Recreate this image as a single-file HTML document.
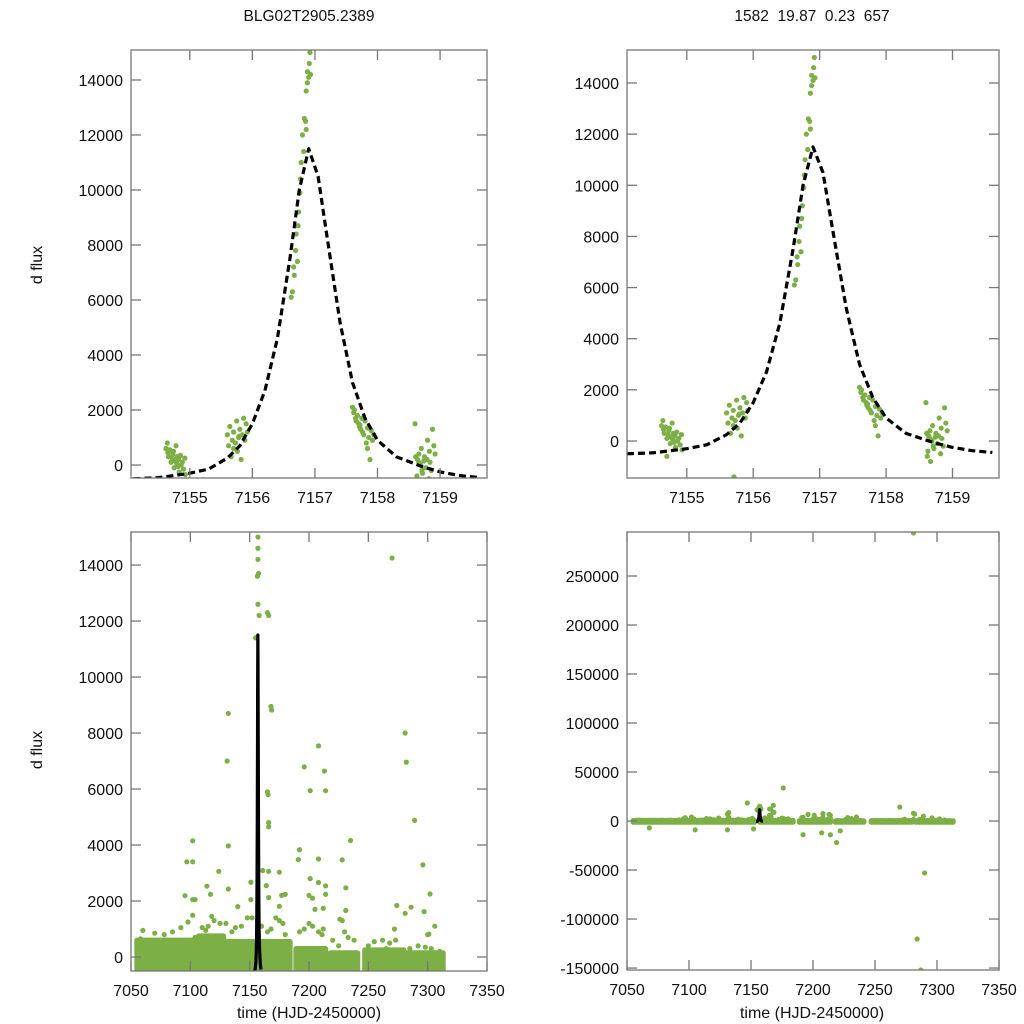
<!DOCTYPE html>
<html><head><meta charset="utf-8">
<style>
html,body{margin:0;padding:0;background:#fff;width:1024px;height:1024px;overflow:hidden;}
svg{display:block;font-family:"Liberation Sans",Arial,sans-serif;}
</style></head>
<body>
<svg id="chart" width="1024" height="1024" viewBox="0 0 1024 1024" xmlns="http://www.w3.org/2000/svg">
<rect x="0" y="0" width="1024" height="1024" fill="#fff"/>
<text x="309" y="21" font-size="15.5" text-anchor="middle" fill="#111">BLG02T2905.2389</text>
<text x="812" y="21" font-size="15.5" text-anchor="middle" fill="#111" xml:space="preserve">1582  19.87  0.23  657</text>
<text transform="translate(42,265) rotate(-90)" font-size="16" text-anchor="middle" fill="#111">d flux</text>
<text transform="translate(42,750) rotate(-90)" font-size="16" text-anchor="middle" fill="#111">d flux</text>
<text x="309" y="1018" font-size="16" text-anchor="middle" fill="#111">time (HJD-2450000)</text>
<text x="812" y="1018" font-size="16" text-anchor="middle" fill="#111">time (HJD-2450000)</text>
<g id="panels"></g>
</svg>
<script>
// ---- zoomed event photometry (top panels) ----
const zoomT = [
7154.62,7154.64,7154.65,7154.66,7154.68,7154.70,7154.70,7154.72,7154.73,7154.75,7154.76,7154.78,7154.79,7154.80,7154.82,7154.83,7154.85,7154.86,7154.88,7154.90,7154.92,7154.93,7154.74,7154.81,
7155.60,7155.62,7155.64,7155.66,7155.68,7155.70,7155.71,7155.73,7155.75,7155.76,7155.78,7155.80,7155.82,7155.84,7155.86,7155.88,7155.90,7155.92,7155.70,7155.79,
7156.62,7156.64,7156.66,7156.67,7156.69,7156.70,7156.72,7156.73,7156.74,7156.76,7156.77,7156.78,7156.80,7156.82,7156.83,7156.85,7156.86,7156.88,7156.88,7156.90,7156.91,7156.92,7156.93,7156.86,
7157.60,7157.62,7157.63,7157.65,7157.66,7157.68,7157.70,7157.71,7157.73,7157.75,7157.76,7157.78,7157.80,7157.82,7157.84,7157.86,7157.88,7157.90,7157.92,7157.94,7157.72,7157.84,
7158.60,7158.61,7158.63,7158.64,7158.66,7158.67,7158.69,7158.70,7158.72,7158.74,7158.75,7158.77,7158.79,7158.80,7158.82,7158.84,7158.86,7158.88,7158.90,7158.92,7158.62,7158.66,7158.71,7158.83
];
const zoomV = [
600,800,450,300,550,-600,100,250,400,-100,150,700,50,300,200,-250,350,0,100,-150,250,-350,500,-50,
1100,700,1400,300,900,1200,-1400,800,1600,500,1000,1300,200,1100,1700,900,1500,1200,600,1050,
6100,6300,7200,6900,7800,8400,7400,8700,9200,9900,10400,11000,12000,11400,12600,12500,13600,13900,14300,14100,14600,15000,14200,12200,
2100,1900,2000,1700,1600,1800,1500,1400,1300,1700,1200,1100,1600,800,1350,1000,200,1250,900,1100,1450,600,
1500,300,-400,200,400,-800,0,600,-300,150,300,-100,200,900,-500,100,-200,1300,700,400,-600,100,-200,500
];
// ---- fitted model curve samples ----
const modelT = [7154.1,7154.5,7155.0,7155.3,7155.6,7155.8,7156.0,7156.2,7156.4,7156.6,7156.75,7156.9,7157.05,7157.2,7157.4,7157.6,7157.8,7158.0,7158.3,7158.7,7159.0,7159.3,7159.6];
const modelV = [-500,-460,-300,-150,250,700,1500,2700,4600,7500,10000,11500,10500,8200,5200,3000,1700,900,300,-50,-250,-380,-450];
// ---- full season: dense observing blocks [start, end, low, high] ----
const seasonStart = [7055,7107,7129,7157,7189,7218,7247,7283];
const seasonEnd   = [7106,7128,7153,7184,7214,7241,7280,7313];
const seasonLow   = [-1200,-1200,-1200,-1200,-1200,-1200,-1200,-1200];
const seasonHigh  = [600,750,550,550,300,150,250,150];
// ---- full season outliers ----
const outT = [7102,7102,7095.5,7102,7104,7102,7114,7117,7124,7132,7132,7140,7151,7151,7161,7165,7165.5,7166,7166,7166,7175,7164,7166,7177,7180,7175,7201,7214,7191,7192,7208,7201,7200,7203,7205,7208,7214,7214,7212,7228,7235,7231,7231,7226,7274,7286,7289,7296,7302,7297,7281,7301,7272,
7157,7157,7157,7157.5,7156.5,7157,7158,7155,7165,7166,7168,7168.5,7132,7131,7208,7196,7213,7282,7270,7097,
7176,7147,7168,7281,7219,7192,7207,7214,7068,7105,7131,7152,7284,7287,7281,7290,7222];
const outV = [4150,3400,2190,2050,2050,1490,2530,2240,3060,3970,2430,1800,2670,2050,3090,5900,5800,4800,4650,3060,3030,2550,2120,2200,2240,1810,5940,5940,3480,3830,3500,2800,2200,2100,1700,2660,2540,2240,1740,3470,4160,2470,1660,1350,1840,1780,4880,3290,2250,1620,1560,820,1000,
15000,14600,14200,13700,13600,12600,12200,11400,12300,12200,8950,8820,8700,7000,7540,6790,6640,6960,14250,3400,
33700,18400,16000,8000,-22000,-14000,-12000,-14000,-7000,-9000,-9000,-8000,-120400,-152000,294000,-53000,-10000];
// ---- fringe points above the dense blocks ----
const fringeT = [7060,7070,7078,7085,7092,7098,7104,7058,7110,7115,7118,7120,7125,7113,7130,7135,7138,7143,7148,7152,7160,7165,7168,7172,7175,7178,7180,7192,7196,7200,7203,7208,7211,7212,7220,7225,7228,7230,7233,7238,7250,7255,7262,7265,7268,7273,7278,7285,7292,7298,7300,7303,7306,7310];
const fringeV = [950,850,800,900,1050,1250,700,650,1050,1100,1450,1300,1200,950,1200,900,1050,1100,1400,1400,1100,900,1000,1400,1300,1200,800,900,1000,1200,1100,900,800,1000,600,400,1300,900,700,600,400,550,600,300,500,600,200,300,400,350,800,300,1100,200];
// ---- axis ticks ----
const zoomXTicks = [7155,7156,7157,7158,7159];
const zoomYTicks = [0,2000,4000,6000,8000,10000,12000,14000];
const fullXTicks = [7050,7100,7150,7200,7250,7300,7350];
const fullYTicksL = [0,2000,4000,6000,8000,10000,12000,14000];
const fullYTicksR = [-150000,-100000,-50000,0,50000,100000,150000,200000,250000];

const NS = "http://www.w3.org/2000/svg";
const root = document.getElementById('panels');
const GREEN = "#7daf47";
function mk(tag, attrs, parent){ const e=document.createElementNS(NS,tag); for(const k in attrs) e.setAttribute(k,attrs[k]); (parent||root).appendChild(e); return e; }

function panel(id, x0,x1,y0,y1, t0,t1, v0,v1, xticks, yticks, full){
  const sx = t => x0 + (t-t0)/(t1-t0)*(x1-x0);
  const sy = v => y1 - (v-v0)/(v1-v0)*(y1-y0);
  const g = mk('g',{});
  
  
  const cp = mk('clipPath',{id:'clip-'+id}, g);
  mk('rect',{x:x0,y:y0,width:x1-x0,height:y1-y0}, cp);
  const data = mk('g',{'clip-path':'url(#clip-'+id+')'}, g);
  
  
  const r = 2.6;
  if(full){
    for(let i=0;i<seasonStart.length;i++){
      const xa=sx(seasonStart[i]), xb=sx(seasonEnd[i]);
      const ya=sy(seasonHigh[i]), yb=sy(seasonLow[i]);
      const b = mk('rect',{x:xa-r,y:ya-r,width:xb-xa+2*r,height:yb-ya+2*r,rx:r,fill:GREEN}, data);
      
      
    }
    for(let i=0;i<fringeT.length;i++){
      const c = mk('circle',{cx:sx(fringeT[i]),cy:sy(fringeV[i]),r:r,fill:GREEN}, data);
      
      
    }
    for(let i=0;i<outT.length;i++){
      const c = mk('circle',{cx:sx(outT[i]),cy:sy(outV[i]),r:r,fill:GREEN}, data);
      
      
    }
  } else {
    for(let i=0;i<zoomT.length;i++){
      const c = mk('circle',{cx:sx(zoomT[i]),cy:sy(zoomV[i]),r:r,fill:GREEN}, data);
      
      
    }
  }
  let d='';
  for(let i=0;i<modelT.length;i++) d += (i?'L':'M')+sx(modelT[i]).toFixed(2)+','+sy(modelV[i]).toFixed(2);
  const p = mk('path',{d:d,fill:'none',stroke:'#000','stroke-width':3.2,'stroke-dasharray':full?'none':'7,4','stroke-linejoin':'round'}, data);
  
  
  const f = mk('rect',{x:x0,y:y0,width:x1-x0,height:y1-y0,fill:'none',stroke:'#777','stroke-width':1.3}, g);
  
  
  const L=10;
  xticks.forEach(t=>{
    const x=sx(t);
    mk('line',{x1:x,y1:y1,x2:x,y2:y1-L,stroke:'#777','stroke-width':1.3}, g);
    mk('line',{x1:x,y1:y0,x2:x,y2:y0+L,stroke:'#777','stroke-width':1.3}, g);
    const tl = mk('text',{x:x,y:y1+25,'font-size':16,'text-anchor':'middle',fill:'#111'}, g);
    tl.textContent = t;
    
    
  });
  yticks.forEach(v=>{
    const y=sy(v);
    mk('line',{x1:x0,y1:y,x2:x0+L,y2:y,stroke:'#777','stroke-width':1.3}, g);
    mk('line',{x1:x1,y1:y,x2:x1-L,y2:y,stroke:'#777','stroke-width':1.3}, g);
    const tl = mk('text',{x:x0-8,y:y+6,'font-size':16,'text-anchor':'end',fill:'#111'}, g);
    tl.textContent = v;
    
    
  });
}
panel('panel-zoom-left', 131,487,50,478, 7154.06,7159.75, -473,15090, zoomXTicks, zoomYTicks, false);
panel('panel-zoom-right', 627,999,50,478, 7154.1,7159.7, -1447,15290, zoomXTicks, zoomYTicks, false);
panel('panel-full-left', 131,487,532,971, 7050,7350, -500,15180, fullXTicks, fullYTicksL, true);
panel('panel-full-right', 627,999,532,970, 7050,7350, -152000,294900, fullXTicks, fullYTicksR, true);
</script>
</body></html>
